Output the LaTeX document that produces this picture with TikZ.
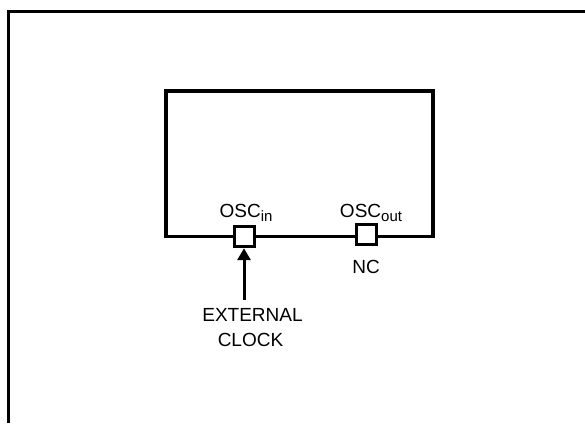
\documentclass[tikz,border=0pt]{standalone}
\usepackage{fontspec}
\setmainfont{Liberation Sans}
\usetikzlibrary{arrows.meta}
\newcommand{\mysub}[1]{\raisebox{-3.5bp}{\fontsize{15bp}{18bp}\selectfont #1}}
\begin{document}
\begin{tikzpicture}[x=1bp,y=-1bp,
  lbl/.style={inner sep=0pt,font=\fontsize{19bp}{25bp}\selectfont},
  pin/.style={draw,line width=3bp,fill=white,minimum size=20bp,inner sep=0pt},
  frameline/.style={line width=3bp},
  chip/.style={line width=3.3bp}]
\useasboundingbox (0,0) rectangle (585,423);
% open outer frame
\draw[frameline] (8.3,423) -- (8.3,11.7) -- (585,11.7);
% chip outline
\draw[chip,line join=miter] (166,236.7) -- (166,91) -- (433,91) -- (433,236.7);
\draw[line width=2.6bp] (164.4,236.7) -- (434.6,236.7);
% pins
\node[pin] (inpin) at (244,236.7) {};
\node[pin] (outpin) at (366,234.8) {};
% labels
\node[lbl,anchor=base] (inlbl) at (246,217.7) {OSC\mysub{in}};
\node[lbl,anchor=base] (outlbl) at (371,217.7) {OSC\mysub{out}};
\node[lbl,anchor=base] (nc) at (366,273.3) {NC};
\node[lbl,anchor=base] (ext) at (252.5,321.7) {EXTERNAL};
\node[lbl,anchor=base] (clk) at (250.5,346.7) {CLOCK};
% arrow
\coordinate (src) at (244,300);
\draw[line width=3bp,-{Triangle[length=12bp,width=13bp]}] (src) -- (inpin.south);
\end{tikzpicture}
\end{document}
